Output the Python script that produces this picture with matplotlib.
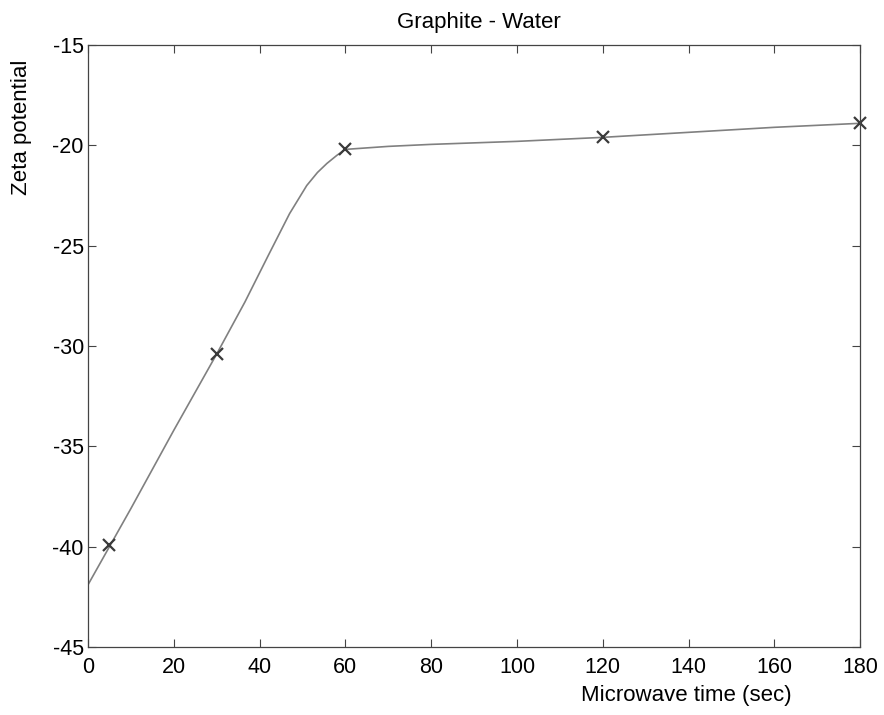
import matplotlib
matplotlib.use("Agg")
import matplotlib.pyplot as plt

plt.rcParams["font.family"] = ["Liberation Sans", "DejaVu Sans"]
plt.rcParams["axes.unicode_minus"] = False

# measured points
time_s = [5, 30, 60, 120, 180]
zeta = [-39.9, -30.4, -20.2, -19.6, -18.9]

# smooth fitted curve
curve_t = [0, 5, 10, 20, 30, 36.6, 42, 47, 51, 53.5, 55.7, 58, 60, 70, 80, 100, 120, 140, 160, 180]
curve_z = [-41.9, -40.0, -38.1, -34.2, -30.4, -27.8, -25.5, -23.4, -22.0, -21.35, -20.9, -20.5, -20.2,
           -20.05, -19.95, -19.8, -19.6, -19.35, -19.1, -18.9]

fig = plt.figure(figsize=(8.84, 7.15), dpi=100, facecolor="w")
ax = fig.add_axes([0.0995, 0.095, 0.8735, 0.842])

ax.plot(curve_t, curve_z, color="#808080", lw=1.2)
ax.plot(time_s, zeta, "x", color="#3a3a3a", ms=8, mew=1.6, clip_on=False)

ax.set_xlim(0, 180)
ax.set_ylim(-45, -15)
ax.set_xticks(range(0, 181, 20))
ax.set_yticks(range(-45, -14, 5))
ax.tick_params(direction="in", length=6, labelsize=15.5, top=True, right=True,
               labeltop=False, labelright=False, color="#444444")
ax.tick_params(axis="x", pad=7)
ax.tick_params(axis="y", pad=3)
for s in ax.spines.values():
    s.set_color("#444444")
    s.set_linewidth(0.9)

ax.set_title("Graphite - Water", fontsize=16, pad=12, x=0.506)
ax.set_xlabel("Microwave time (sec)", fontsize=16)
ax.set_ylabel("Zeta potential", fontsize=16)
ax.xaxis.set_label_coords(0.775, -0.063)
ax.yaxis.set_label_coords(-0.073, 0.864)

fig.savefig("out.png", dpi=100)
